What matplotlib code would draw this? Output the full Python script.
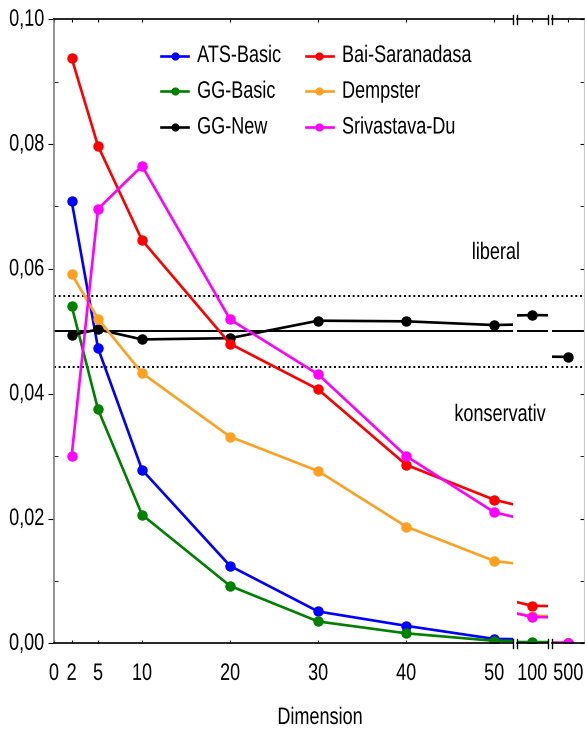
"""
Rejection rates of the high-dimensional two-sample tests over the dimension,
drawn with a broken x axis (0-50, 100, 500).
"""

import matplotlib.pyplot as plt
from matplotlib.text import Text
from matplotlib.transforms import Affine2D
from matplotlib.patheffects import AbstractPathEffect
from matplotlib.ticker import MultipleLocator, FuncFormatter, FixedLocator

plt.rcParams['font.family'] = ['Liberation Sans', 'DejaVu Sans']

dimensions = [2, 5, 10, 20, 30, 40, 50, 100, 500]

ats_basic = [0.0709, 0.0473, 0.0278, 0.0124, 0.0051, 0.0028, 0.0007, 0.0001, 0.0]
gg_basic = [0.0541, 0.0375, 0.0206, 0.0092, 0.0035, 0.0016, 0.0004, 0.0002, 0.0]
gg_new = [0.0494, 0.0503, 0.0487, 0.0489, 0.0517, 0.0516, 0.0510, 0.0526, 0.0459]
bai_saranadasa = [0.0938, 0.0797, 0.0646, 0.0480, 0.0407, 0.0286, 0.0230, 0.0060, 0.0]
dempster = [0.0592, 0.0520, 0.0433, 0.0331, 0.0276, 0.0187, 0.0132, 0.0044, 0.0]
srivastava_du = [0.0300, 0.0696, 0.0765, 0.0519, 0.0431, 0.0300, 0.0210, 0.0042, 0.0001]

series = [
    ('ATS-Basic', ats_basic, '#0000ff'),
    ('GG-Basic', gg_basic, '#008000'),
    ('GG-New', gg_new, '#000000'),
    ('Bai-Saranadasa', bai_saranadasa, '#ff0000'),
    ('Dempster', dempster, '#ffa020'),
    ('Srivastava-Du', srivastava_du, '#ff00ff'),
]

alpha = 0.05
alpha_band = (0.0443, 0.0557)

ticks_main = [0, 2, 5, 10, 20, 30, 40, 50]

W, H = 585, 730
FS = 13


class TallText(AbstractPathEffect):
    """draws glyphs stretched upward from the baseline"""

    def __init__(self, sy):
        super().__init__()
        self.sy = sy

    def draw_path(self, renderer, gc, tpath, affine, rgbFace=None):
        renderer.draw_path(gc, tpath, Affine2D().scale(1, self.sy) + affine,
                           rgbFace)


def px_box(x0, x1, y_top, y_bot):
    """axes rectangle in figure fractions from pixel edges"""
    return [x0 / W, 1 - y_bot / H, (x1 - x0) / W, (y_bot - y_top) / H]


def comma(v, _):
    return f"{v:.2f}".replace('.', ',')


fig = plt.figure(figsize=(W / 100, H / 100), dpi=100)
ax1 = fig.add_axes(px_box(54, 512.7, 19.3, 643.3))
ax2 = fig.add_axes(px_box(516.7, 547.7, 19.3, 643.3), sharey=ax1)
ax3 = fig.add_axes(px_box(551.7, 584, 19.3, 643.3), sharey=ax1)
axes = [ax1, ax2, ax3]

ax1.set_xlim(0, 52.1)
ax2.set_xlim(98.23, 101.75)
ax3.set_xlim(498.11, 501.78)
ax1.set_ylim(0, 0.1)

for ax in axes:
    ax.patch.set_visible(False)
    for name, values, color in series:
        ax.plot(dimensions, values, color=color, lw=1.9, marker='o',
                markersize=6.5, label=name)
    ax.axhline(alpha, color='black', lw=1.4, zorder=1)
    for b in alpha_band:
        ax.axhline(b, color='black', lw=1.4, ls=(0, (1, 1.4)), zorder=1)

    ax.spines['top'].set_color('black')
    ax.spines['bottom'].set_color('black')
    ax.spines['top'].set_linewidth(1.2)
    ax.spines['bottom'].set_linewidth(1.2)
    ax.spines['left'].set_visible(False)
    ax.spines['right'].set_visible(False)
    ax.tick_params(axis='x', direction='in', length=2, top=True,
                   labelsize=FS, pad=17)
    ax.tick_params(axis='y', left=False, right=False, labelleft=False,
                   which='both')

# left axis with labels
ax1.spines['left'].set_visible(True)
ax1.spines['left'].set_color('#808080')
ax1.spines['left'].set_linewidth(1.2)
ax1.yaxis.set_major_locator(MultipleLocator(0.02))
ax1.yaxis.set_minor_locator(MultipleLocator(0.01))
ax1.yaxis.set_major_formatter(FuncFormatter(comma))
ax1.tick_params(axis='y', which='major', left=True, labelleft=True,
                direction='out', length=4, labelsize=FS, pad=3)
ax1.tick_params(axis='y', which='minor', left=True, direction='in', length=3)

# right edge of the last panel
ax3.spines['right'].set_visible(True)
ax3.spines['right'].set_color('#c8c8c8')
ax3.tick_params(axis='y', which='both', right=True, direction='in', length=3)

ax1.xaxis.set_major_locator(FixedLocator(ticks_main))
ax2.xaxis.set_major_locator(FixedLocator([100]))
ax3.xaxis.set_major_locator(FixedLocator([500]))

# break marks on top and bottom spines
d = 0.0075
for ax, sides in [(ax1, [1]), (ax2, [0, 1]), (ax3, [0])]:
    for xs in sides:
        for ys in (0, 1):
            ax.plot([xs, xs], [ys - d, ys + d], transform=ax.transAxes,
                    color='black', lw=1.0, clip_on=False)

fig.text(496 / W, 1 - 259 / H, 'liberal', fontsize=FS, ha='center',
         va='baseline')
fig.text(500 / W, 1 - 421 / H, 'konservativ', fontsize=FS, ha='center',
         va='baseline')

ax1.legend(ncol=2, frameon=False, fontsize=FS, loc='upper left',
           bbox_to_anchor=(161 / W, 1 - 49 / H),
           bbox_transform=fig.transFigure, borderpad=0, borderaxespad=0,
           handlelength=1.5, handletextpad=0.5, columnspacing=1.4,
           labelspacing=1.04, markerscale=0.75)

fig.text(320 / W, 1 - 724 / H, 'Dimension', fontsize=FS, ha='center',
         va='baseline')

# stretch every text vertically once all tick labels exist
fig.canvas.draw()
for t in fig.findobj(Text):
    t.set_path_effects([TallText(1.32)])

fig.savefig('out.png', dpi=100)
